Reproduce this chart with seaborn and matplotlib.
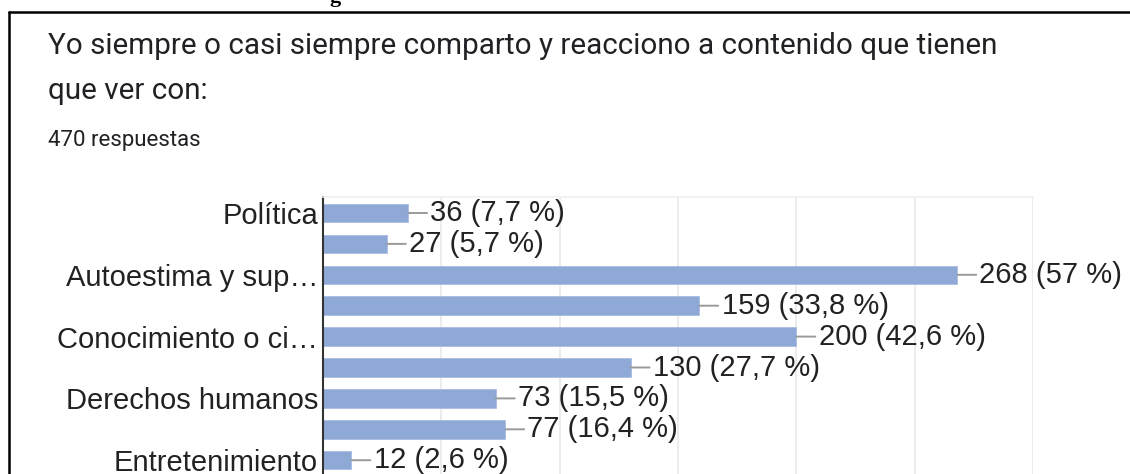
import numpy as np
import pandas as pd
import matplotlib
matplotlib.use('Agg')
import matplotlib.pyplot as plt
import seaborn as sns
from matplotlib.lines import Line2D

sns.set_theme(style='white')
plt.rcParams['font.family'] = ['Liberation Sans', 'DejaVu Sans']

# data
categories = ['Política', '', 'Autoestima y sup…', '', 'Conocimiento o ci…',
              '', 'Derechos humanos', '', 'Entretenimiento']
counts = [36, 27, 268, 159, 200, 130, 73, 77, 12]
total = 470
x_ticks = [0, 50, 100, 150, 200, 250, 300]

title_1 = 'Yo siempre o casi siempre comparto y reacciono a contenido que tienen'
title_2 = 'que ver con:'
subtitle = f'{total} respuestas'

bar_color = '#8fa9d7'
text_color = '#222222'

def pct_label(n):
    p = round(n / total * 100, 1)
    s = f'{p:.1f}'.replace('.', ',')
    if s.endswith(',0'):
        s = s[:-2]
    return f'{n} ({s} %)'

df = pd.DataFrame({'pos': range(len(counts)), 'count': counts})

W, H = 1130, 474
fig = plt.figure(figsize=(W / 100, H / 100), dpi=100)
fig.patch.set_facecolor('white')

# axes placed in pixel terms, bottom runs past the figure (cropped screenshot)
ax_left, ax_right, ax_top, ax_bot = 323, 1033, 197, 490
ax = fig.add_axes([ax_left / W, (H - ax_bot) / H,
                   (ax_right - ax_left) / W, (ax_bot - ax_top) / H])

sns.barplot(data=df, x='count', y='pos', orient='h', color=bar_color,
            saturation=1, width=0.6, ax=ax, edgecolor='#a9bde2', linewidth=0.6)

step = 30.9
ax.set_ylim((ax_bot - 213) / step, -(213 - ax_top) / step)
ax.set_xlim(0, x_ticks[-1])
ax.set_xticks(x_ticks)
ax.set_xticklabels([])
ax.grid(axis='x', color='#ececec', lw=1.4)
ax.set_axisbelow(True)
ax.set_yticks(range(len(categories)))
ax.set_yticklabels(categories, fontsize=21, color=text_color)
ax.tick_params(axis='both', length=0, pad=3.5)
ax.set_xlabel('')
ax.set_ylabel('')
for side in ['right', 'bottom']:
    ax.spines[side].set_visible(False)
ax.spines['top'].set_color('#f0f0f0')
ax.spines['top'].set_linewidth(1.2)
ax.spines['left'].set_color('#333333')
ax.spines['left'].set_linewidth(1.5)

# value labels with short leader lines
for i, n in enumerate(counts):
    ax.annotate(pct_label(n), xy=(n, i), xytext=(16, 0), textcoords='offset points',
                va='center', ha='left', fontsize=21, color=text_color,
                arrowprops=dict(arrowstyle='-', color='#9a9a9a', lw=1.4,
                                shrinkA=0, shrinkB=0))

# header texts
fig.text(48 / W, 1 - 54 / H, title_1, family=['Roboto', 'DejaVu Sans'],
         fontsize=21.3, color='#202124', va='baseline', ha='left')
fig.text(48 / W, 1 - 99 / H, title_2, family=['Roboto', 'DejaVu Sans'],
         fontsize=21.3, color='#202124', va='baseline', ha='left')
fig.text(48 / W, 1 - 146 / H, subtitle, family=['Roboto', 'DejaVu Sans'],
         fontsize=16, color='#202124', va='baseline', ha='left')

# cropped heading above the frame
fig.text(335 / W, 1 - 2 / H, 'g', family=['Liberation Serif'], fontweight='bold',
         fontsize=16, color='black', va='baseline', ha='center')

# frame of the screenshot
fig.add_artist(Line2D([9 / W, 1], [1 - 12 / H, 1 - 12 / H], color='black', lw=1.8))
fig.add_artist(Line2D([9 / W, 9 / W], [0, 1 - 12 / H], color='black', lw=1.8))

fig.savefig('out.png', dpi=100, facecolor='white')
